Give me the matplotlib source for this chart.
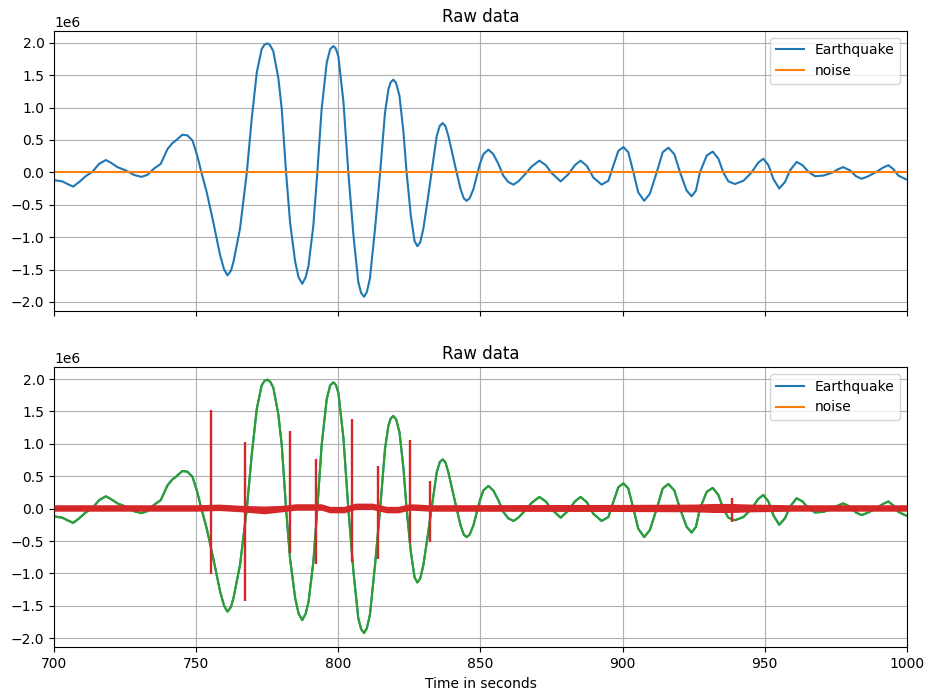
import numpy as np
import matplotlib
matplotlib.use('Agg')
import matplotlib.pyplot as plt

# earthquake trace (time in s, amplitude in millions)
quake_t = [700.0, 702.9, 704.7, 706.7, 708.8, 711.1, 713.5, 715.8, 718.2, 719.9,
           722.3, 725.2, 728.1, 730.7, 732.8, 735.2, 737.5, 739.9, 741.6, 742.8,
           745.1, 746.9, 748.7, 750.4, 751.8, 753.7, 756.0, 758.4, 759.8, 761.0,
           762.2, 763.1, 765.4, 767.8, 769.5, 771.3, 773.0, 774.0, 775.0, 776.0,
           777.1, 778.9, 780.1, 781.6, 783.0, 784.8, 786.0, 787.3, 788.5, 789.5,
           791.2, 792.6, 794.1, 795.9, 797.1, 798.25, 799.1, 800.0, 801.8, 803.5,
           805.3, 807.0, 808.0, 809.0, 810.0, 811.1, 812.9, 814.7, 816.4, 817.6,
           818.4, 819.3, 820.3, 821.5, 822.9, 824.0, 825.5, 826.8, 827.8, 828.8,
           829.9, 831.3, 832.8, 834.6, 835.7, 836.7, 837.7, 838.7, 840.5, 841.6,
           843.0, 844.1, 845.1, 846.2, 847.5, 849.8, 851.0, 852.8, 854.5, 856.3,
           858.0, 859.8, 861.6, 863.3, 865.7, 868.0, 870.7, 873.0, 875.0, 878.2,
           880.9, 883.2, 885.2, 887.4, 889.7, 892.6, 895.0, 896.7, 898.5, 900.3,
           902.0, 903.8, 905.5, 907.6, 909.6, 912.0, 914.1, 916.1, 918.2, 920.2,
           922.5, 924.3, 925.8, 927.2, 929.6, 931.7, 933.7, 935.4, 937.2, 939.5,
           942.5, 945.4, 947.7, 949.5, 951.3, 953.0, 955.1, 957.1, 958.9, 961.2,
           963.3, 965.3, 967.7, 970.6, 973.5, 975.9, 977.6, 980.0, 982.1, 984.1,
           986.4, 989.4, 991.5, 993.5, 995.2, 997.0, 999.3, 1000.0]
quake_v = [-0.12, -0.14, -0.18, -0.22, -0.15, -0.06, 0.01, 0.13, 0.19, 0.15,
           0.08, 0.03, -0.04, -0.07, -0.04, 0.06, 0.13, 0.36, 0.45, 0.49,
           0.58, 0.57, 0.49, 0.25, 0.0, -0.31, -0.77, -1.28, -1.50, -1.59,
           -1.52, -1.38, -0.87, 0.0, 0.82, 1.54, 1.90, 1.97, 1.99, 1.96,
           1.87, 1.45, 0.97, 0.0, -0.77, -1.38, -1.62, -1.72, -1.62, -1.44,
           -0.82, 0.0, 0.97, 1.69, 1.90, 1.95, 1.91, 1.79, 1.08, 0.0,
           -0.97, -1.69, -1.86, -1.92, -1.85, -1.64, -0.87, 0.0, 0.92, 1.28,
           1.39, 1.43, 1.38, 1.18, 0.62, 0.0, -0.67, -1.06, -1.14, -1.08,
           -0.87, -0.46, 0.0, 0.56, 0.72, 0.76, 0.71, 0.56, 0.21, 0.0,
           -0.26, -0.40, -0.44, -0.40, -0.26, 0.13, 0.28, 0.35, 0.28, 0.13,
           -0.05, -0.15, -0.19, -0.14, -0.03, 0.09, 0.18, 0.11, -0.01, -0.14,
           -0.03, 0.11, 0.18, 0.10, -0.08, -0.19, -0.13, 0.10, 0.33, 0.39,
           0.31, 0.0, -0.31, -0.44, -0.33, 0.0, 0.31, 0.38, 0.28, 0.0,
           -0.28, -0.37, -0.28, 0.0, 0.26, 0.32, 0.21, 0.0, -0.14, -0.18,
           -0.13, 0.0, 0.15, 0.21, 0.11, -0.10, -0.25, -0.15, 0.03, 0.16,
           0.11, 0.01, -0.06, -0.05, -0.01, 0.05, 0.08, 0.03, -0.06, -0.10,
           -0.06, 0.01, 0.07, 0.11, 0.05, -0.05, -0.10, -0.11]

# noise band (lower / upper edge, millions)
noise_t = [700, 750, 758, 766, 774, 780, 785, 794, 797, 802, 806, 812, 817, 821,
           825, 828, 832, 900, 925, 932, 938, 945, 960, 1000]
noise_lo = [-0.04, -0.04, -0.03, -0.05, -0.08, -0.05, -0.025, -0.025, -0.065, -0.065,
            -0.015, -0.015, -0.065, -0.065, -0.025, -0.03, -0.04, -0.045, -0.05, -0.06,
            -0.06, -0.05, -0.04, -0.04]
noise_hi = [0.06, 0.06, 0.07, 0.05, 0.04, 0.05, 0.075, 0.075, 0.035, 0.035,
            0.085, 0.085, 0.035, 0.035, 0.075, 0.07, 0.06, 0.065, 0.07, 0.08,
            0.08, 0.07, 0.06, 0.06]

# spikes in the noise record
spike_t = [755.2, 767.1, 783.0, 792.1, 804.9, 814.1, 825.2, 832.1, 938.5]
spike_lo = [-1.01, -1.43, -0.68, -0.86, -0.82, -0.78, -0.53, -0.51, -0.20]
spike_hi = [1.52, 1.03, 1.20, 0.77, 1.39, 0.66, 1.06, 0.42, 0.17]

M = 1e6
qt = np.array(quake_t)
qv = np.array(quake_v) * M
nt = np.array(noise_t)
nlo = np.array(noise_lo) * M
nhi = np.array(noise_hi) * M

fig, (ax1, ax2) = plt.subplots(2, 1, sharex=True, figsize=(9.33, 6.99), dpi=100)
fig.subplots_adjust(left=0.058, right=0.972, top=0.956, bottom=0.074, hspace=0.2)

# top panel
ax1.plot(qt, qv, color='C0', label='Earthquake')
ax1.plot([700, 1000], [0, 0], color='C1', label='noise')
ax1.set_title('Raw data')
ax1.legend(loc='upper right')
ax1.grid(True)

# bottom panel: same traces, then overplotted again
ax2.plot(qt, qv, color='C0', label='Earthquake')
ax2.plot([700, 1000], [0, 0], color='C1', label='noise')
ax2.plot(qt, qv, color='C2')
ax2.fill_between(nt, nlo, nhi, color='C3', lw=0, zorder=3)
ax2.vlines(spike_t, np.array(spike_lo) * M, np.array(spike_hi) * M,
           color='C3', lw=1.7, zorder=3)
ax2.set_title('Raw data')
ax2.legend(['Earthquake', 'noise'], loc='upper right')
ax2.grid(True)
ax2.set_xlabel('Time in seconds')

for ax in (ax1, ax2):
    ax.set_xlim(700, 1000)
    ax.set_ylim(-2.14e6, 2.185e6)

plt.savefig('out.png', dpi=100)
